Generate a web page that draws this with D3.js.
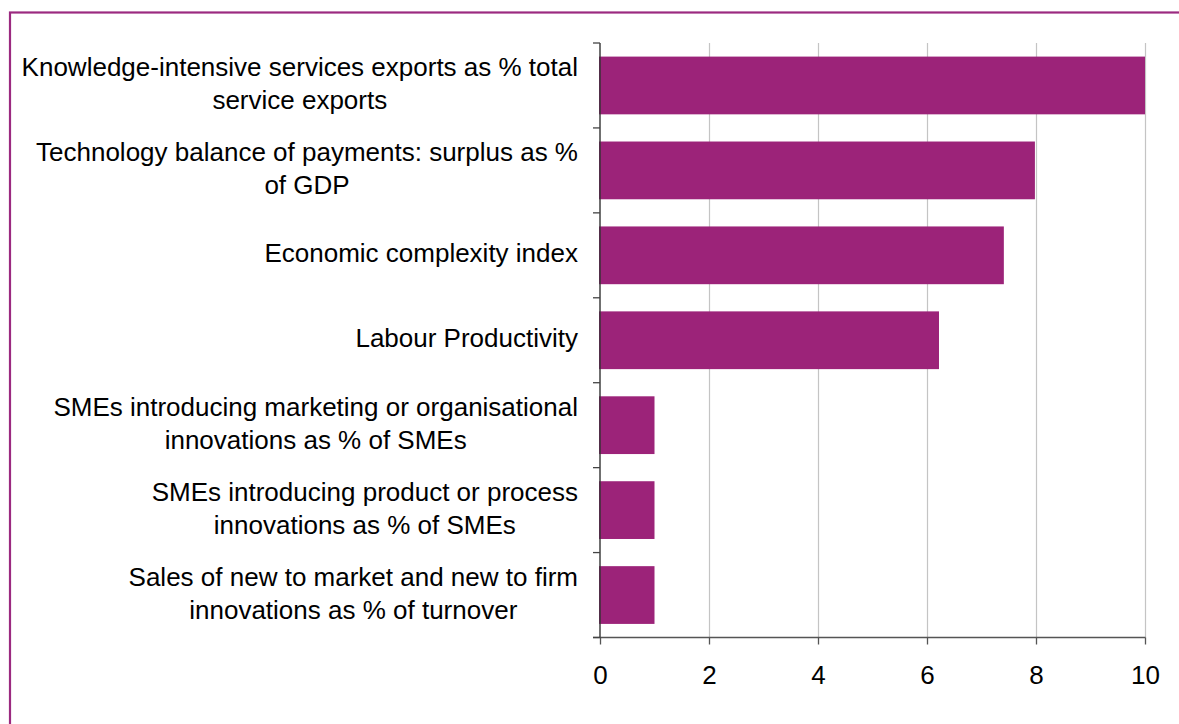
<!DOCTYPE html>
<html>
<head>
<meta charset="utf-8">
<script src="https://cdn.jsdelivr.net/npm/d3@7"></script>
<style>
  html, body { margin: 0; padding: 0; background: #fff; }
  svg { display: block; font-family: "Liberation Sans", Arial, sans-serif; }
</style>
</head>
<body>
<svg id="chart" width="1179" height="724"></svg>
<script>
// Indicator labels (line breaks marked with \n), top to bottom
const categories = [
  "Knowledge-intensive services exports as % total\nservice exports",
  "Technology balance of payments: surplus as %\nof GDP",
  "Economic complexity index",
  "Labour Productivity",
  "SMEs introducing marketing or organisational\ninnovations as % of SMEs",
  "SMEs introducing product or process\ninnovations as % of SMEs",
  "Sales of new to market and new to firm\ninnovations as % of turnover"
];
const values = [10, 7.98, 7.41, 6.22, 1.0, 1.0, 1.0];
const xTicks = [0, 2, 4, 6, 8, 10];

const svg = d3.select("#chart");
const W = 1179, H = 724;
const margin = { left: 600, right: 34, top: 43, bottom: 86.5 };
const barColor = "#9c2379";

// Frame
svg.append("rect")
  .attr("x", 10).attr("y", 12.5)
  .attr("width", W + 20).attr("height", H + 20)
  .attr("fill", "none")
  .attr("stroke", "#9b2a80")
  .attr("stroke-width", 2.2);

const x = d3.scaleLinear().domain([0, 10]).range([margin.left, W - margin.right]);
const y = d3.scaleBand().domain(categories)
  .range([margin.top, H - margin.bottom])
  .paddingInner(0.32).paddingOuter(0.16);

// Vertical gridlines
svg.append("g").selectAll("line")
  .data(xTicks.filter(d => d > 0))
  .join("line")
  .attr("x1", d => x(d) + 0.5).attr("x2", d => x(d) + 0.5)
  .attr("y1", margin.top).attr("y2", H - margin.bottom)
  .attr("stroke", "#c4c4c4").attr("stroke-width", 1.2);

// Bars
svg.append("g").selectAll("rect")
  .data(categories)
  .join("rect")
  .attr("x", x(0) - 1)
  .attr("y", d => y(d))
  .attr("width", (d, i) => x(values[i]) - x(0) + 1)
  .attr("height", y.bandwidth())
  .attr("fill", barColor);

// X axis
const xAxis = svg.append("g")
  .attr("transform", `translate(0,${H - margin.bottom})`)
  .call(d3.axisBottom(x).tickValues(xTicks).tickSize(7).tickPadding(21).tickSizeOuter(0));
xAxis.select(".domain").remove();
xAxis.append("line")
  .attr("x1", margin.left - 7).attr("x2", x(10) + 0.5)
  .attr("stroke", "#555").attr("stroke-width", 1.3);
xAxis.selectAll(".tick line").attr("stroke", "#555").attr("stroke-width", 1.3);
xAxis.selectAll(".tick text")
  .attr("fill", "#000")
  .style("font-size", "26px")
  .style("font-family", "'Liberation Sans', Arial, sans-serif");

// Y axis: line plus ticks at band boundaries
const yAxis = svg.append("g");
yAxis.append("line")
  .attr("x1", margin.left).attr("x2", margin.left)
  .attr("y1", margin.top).attr("y2", H - margin.bottom)
  .attr("stroke", "#333").attr("stroke-width", 1.4);
const step = y.step();
const boundaries = d3.range(categories.length + 1).map(i => margin.top + i * step);
yAxis.selectAll("line.tk")
  .data(boundaries)
  .join("line")
  .attr("class", "tk")
  .attr("x1", margin.left - 7).attr("x2", margin.left)
  .attr("y1", d => d).attr("y2", d => d)
  .attr("stroke", "#444").attr("stroke-width", 1.3);

// Category labels: each block is right-aligned to the axis, its lines centred on each other
const lineH = 33;
const labelRight = margin.left - 22;
const labels = svg.append("g")
  .attr("font-size", 26)
  .attr("fill", "#000")
  .attr("text-anchor", "middle");
categories.forEach((c, i) => {
  const lines = c.split("\n");
  const cy = y(c) + y.bandwidth() / 2 - 2;
  const t = labels.append("text")
    .attr("y", cy - (lines.length - 1) * lineH / 2);
  const spans = lines.map((ln, j) =>
    t.append("tspan")
      .attr("dy", j === 0 ? "0.35em" : lineH)
      .text(ln));
  const maxW = d3.max(spans, s => s.node().getComputedTextLength());
  const cx = labelRight - maxW / 2;
  spans.forEach(s => s.attr("x", cx));
});
</script>
</body>
</html>
